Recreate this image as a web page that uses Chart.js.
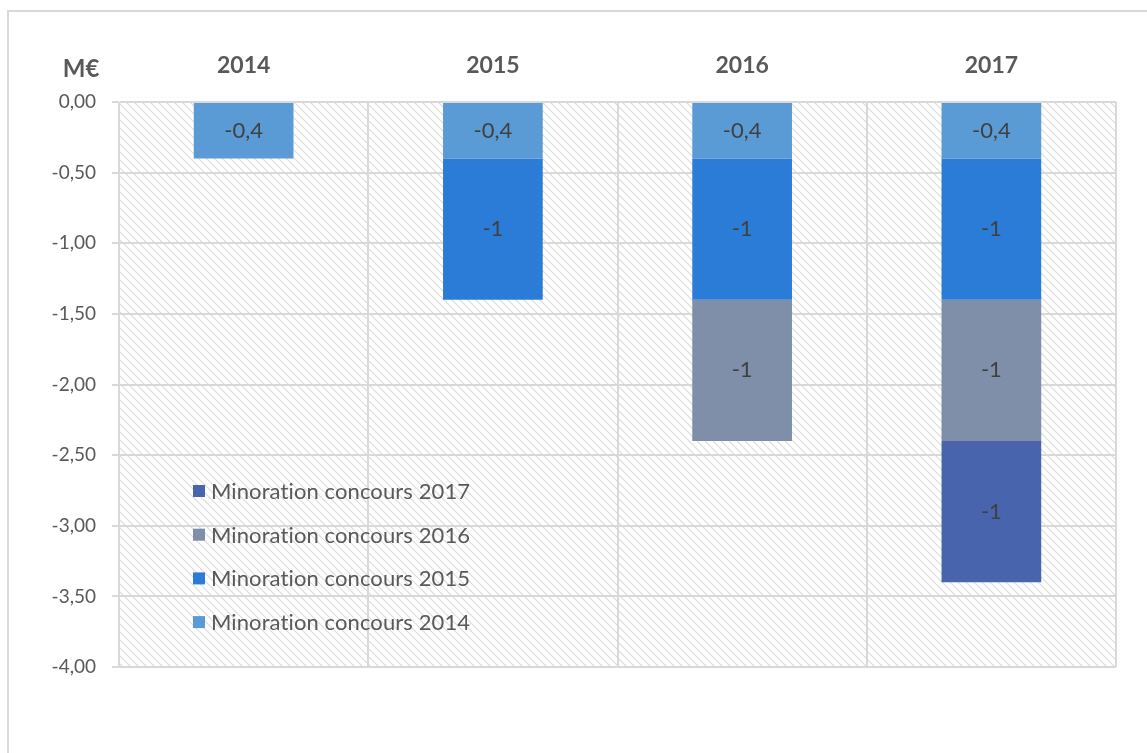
<!DOCTYPE html>
<html>
<head>
<meta charset="utf-8">
<script src="https://cdn.jsdelivr.net/npm/chart.js@4"></script>
<style>
  html, body { margin: 0; padding: 0; background: #fff; }
  #wrap { width: 1147px; height: 753px; position: relative; }
</style>
</head>
<body>
<div id="wrap"><canvas id="chart"></canvas></div>
<script>
// ===== data =====
const YEARS = ['2014', '2015', '2016', '2017'];
const SERIES_LABELS = ['Minoration concours 2014', 'Minoration concours 2015', 'Minoration concours 2016', 'Minoration concours 2017'];
const MINO_2014 = [-0.4, -0.4, -0.4, -0.4];
const MINO_2015 = [null, -1, -1, -1];
const MINO_2016 = [null, null, -1, -1];
const MINO_2017 = [null, null, null, -1];
const Y_MIN = -4, Y_MAX = 0, Y_STEP = 0.5;
const UNIT = 'M€';

const COLORS = ['#5b9bd5', '#2a7cd6', '#7f8fa9', '#4864ac'];
const FONT = 'Lato, "Open Sans", sans-serif';
const TEXT = '#595959';

function frNum(v, d) {
  return v.toFixed(d).replace('.', ',');
}

// hatch pattern for plot area
function makeHatch() {
  const c = document.createElement('canvas');
  c.width = 8; c.height = 8;
  const g = c.getContext('2d');
  g.fillStyle = '#ffffff';
  g.fillRect(0, 0, 8, 8);
  g.strokeStyle = '#dadada';
  g.lineWidth = 1.1;
  g.beginPath();
  g.moveTo(0, 0); g.lineTo(8, 8);
  g.moveTo(-4, 4); g.lineTo(4, 12);
  g.moveTo(4, -4); g.lineTo(12, 4);
  g.stroke();
  return g.createPattern(c, 'repeat');
}

const decor = {
  id: 'decor',
  beforeDraw(chart) {
    const { ctx, chartArea: a } = chart;
    ctx.save();
    // outer frame (top + left visible)
    ctx.strokeStyle = '#d9d9d9';
    ctx.lineWidth = 2;
    ctx.beginPath();
    ctx.moveTo(8, 760); ctx.lineTo(8, 11); ctx.lineTo(1160, 11);
    ctx.stroke();
    // hatched plot area
    ctx.fillStyle = makeHatch();
    ctx.fillRect(a.left, a.top, a.right - a.left, a.bottom - a.top);
    ctx.restore();
  },
  afterDraw(chart) {
    const { ctx } = chart;
    ctx.save();
    // unit label
    ctx.fillStyle = TEXT;
    ctx.font = 'bold 24px ' + FONT;
    ctx.textAlign = 'center';
    ctx.textBaseline = 'middle';
    ctx.fillText(UNIT, 81, 69);

    // values inside segments
    ctx.font = '22px ' + FONT;
    ctx.fillStyle = '#404040';
    chart.data.datasets.forEach((ds, i) => {
      chart.getDatasetMeta(i).data.forEach((bar, j) => {
        const v = ds.data[j];
        if (v == null) return;
        const yc = (bar.y + bar.base) / 2;
        ctx.fillText(frNum(v, Number.isInteger(v) ? 0 : 1), bar.x, yc);
      });
    });

    // legend inside plot, reversed order
    ctx.font = '22px ' + FONT;
    ctx.textAlign = 'left';
    if ('letterSpacing' in ctx) ctx.letterSpacing = '0.1px'; // avoid the "ti" ligature
    const rows = chart.data.datasets.slice().reverse();
    rows.forEach((ds, k) => {
      const y = 491 + k * 43.7;
      ctx.fillStyle = ds.backgroundColor;
      ctx.fillRect(193, y - 6, 12, 12);
      ctx.fillStyle = TEXT;
      ctx.fillText(ds.label, 211, y + 1);
    });
    ctx.restore();
  }
};

const series = [MINO_2014, MINO_2015, MINO_2016, MINO_2017];

new Chart(document.getElementById('chart'), {
  type: 'bar',
  data: {
    labels: YEARS,
    datasets: series.map((d, i) => ({
      label: SERIES_LABELS[i],
      data: d,
      backgroundColor: COLORS[i],
      borderWidth: 0,
      barPercentage: 0.4,
      categoryPercentage: 1
    }))
  },
  options: {
    responsive: true,
    maintainAspectRatio: false,
    animation: false,
    layout: { padding: { left: 0, top: 0, right: 31, bottom: 86 } },
    plugins: {
      legend: { display: false },
      tooltip: { enabled: false }
    },
    scales: {
      x: {
        position: 'top',
        stacked: true,
        afterFit(s) { s.height = 102; },
        grid: { color: '#d9d9d9', lineWidth: 2, drawTicks: false },
        border: { display: false },
        ticks: { color: TEXT, font: { family: FONT, size: 23, weight: 'bold' }, padding: 23 }
      },
      y: {
        stacked: true,
        min: Y_MIN, max: Y_MAX,
        afterFit(s) { s.width = 119; },
        grid: { color: '#d9d9d9', lineWidth: 2, tickLength: 7 },
        border: { color: '#d9d9d9', width: 1 },
        ticks: {
          stepSize: Y_STEP,
          color: TEXT,
          padding: 16,
          font: { family: FONT, size: 19 },
          callback: v => frNum(v, 2)
        }
      }
    }
  },
  plugins: [decor]
});
</script>
</body>
</html>
